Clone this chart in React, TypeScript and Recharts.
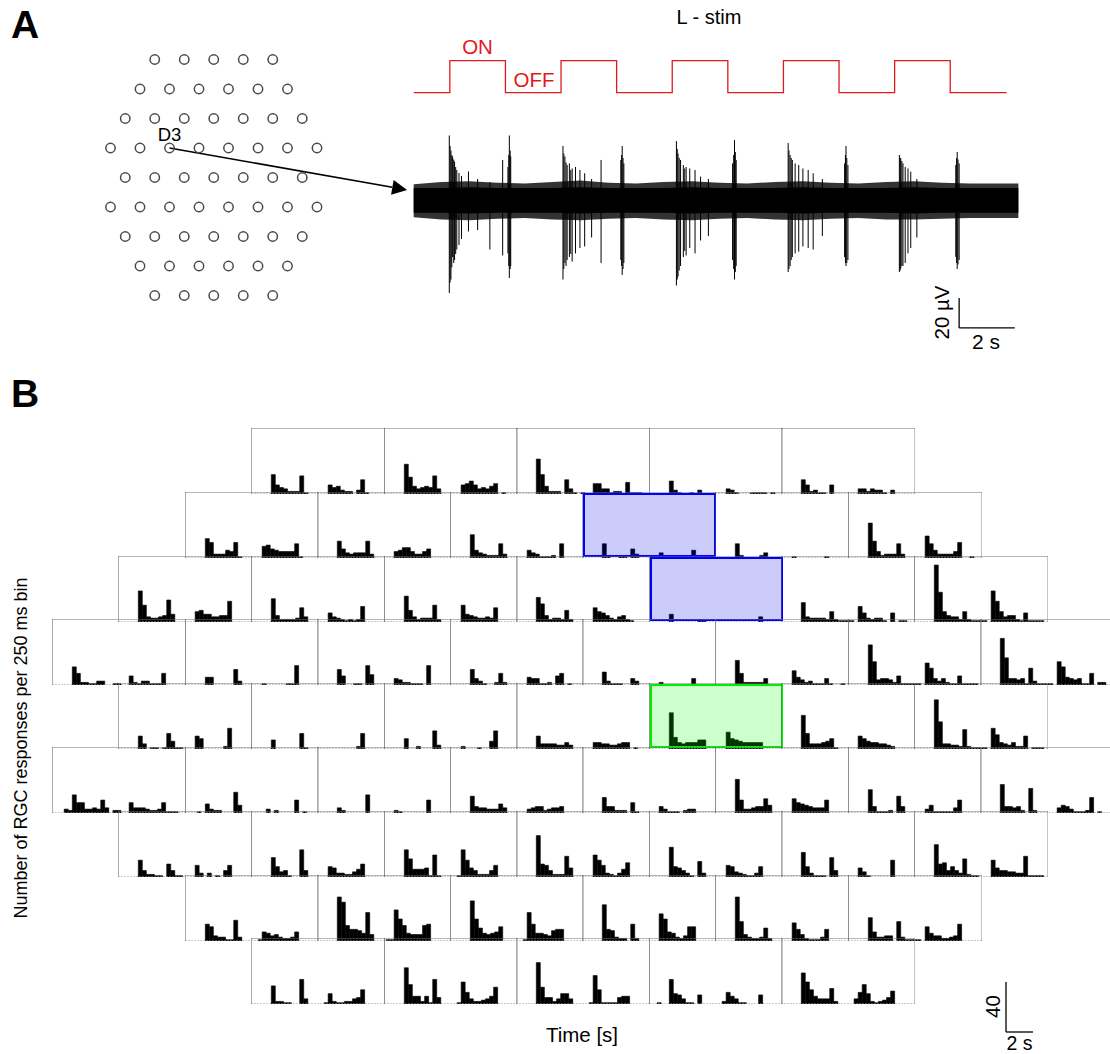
import React from "react";
import {
  Bar,
  BarChart,
  ComposedChart,
  Area,
  Line,
  ReferenceDot,
  ReferenceLine,
  Scatter,
  ScatterChart,
  XAxis,
  YAxis,
} from "recharts";

const FONT = '"Liberation Sans", Arial, sans-serif';

// electrode layout (hexagonal MEA), number of electrodes per row and half-pitch offset
const electrodeRows = [5, 6, 7, 8, 7, 8, 7, 6, 5];
const rowOffsets = [3, 2, 1, 0, 1, 0, 1, 2, 3];

// L - stim: step times (s) and levels
const stimT = [0, 1.3, 3.3, 5.3, 7.3, 9.3, 11.3, 13.3, 15.3, 17.3, 19.3, 21.33];
const stimLevel = [0, 1, 0, 1, 0, 1, 0, 1, 0, 1, 0, 0];

// noise band of the D3 recording (µV)
const bandT = [0, 1, 2, 3, 4, 5, 6, 7, 8, 9, 10, 11, 12, 13, 14, 15, 16, 17, 18, 19, 20, 21, 21.75];
const coreHi = [8, 8, 8.5, 8, 8, 8, 8.5, 8, 8, 8, 8.5, 8, 8, 8, 8.5, 8, 8, 8, 8.5, 8, 8, 8, 8];
const coreLo = [-8.5, -8.5, -9, -8.5, -8.5, -8.5, -9, -8.5, -8.5, -8.5, -9, -8.5, -8.5, -8.5, -9, -8.5, -8.5, -8.5, -9, -8.5, -8.5, -8.5, -8.5];
const fringeHi = [10.5, 12, 12.5, 11.5, 11, 12, 13, 11.5, 11, 12, 12.5, 11.5, 11, 12, 12.5, 11.5, 11, 12, 12.5, 11.5, 11, 11, 11];
const fringeLo = [-11.5, -13, -13.5, -12.5, -12, -13, -13.5, -12.5, -12, -13, -13.5, -12.5, -12, -13, -13.5, -12.5, -12, -13, -13, -12.5, -12, -12, -12];

// spikes: time (s), positive peak, negative peak (µV)
const spikeT = [
  1.28, 1.31, 1.34, 1.37, 1.4, 1.44, 1.47, 1.51, 1.55, 1.63, 1.72, 1.97, 2.3, 2.74, 3.2, 3.39, 3.42, 3.44, 3.47, 3.49,
  5.37, 5.4, 5.44, 5.48, 5.52, 5.6, 5.65, 5.7, 5.82, 5.98, 6.15, 6.4, 6.74, 7.45, 7.48, 7.5, 7.53, 7.56,
  9.45, 9.48, 9.51, 9.55, 9.6, 9.7, 9.75, 9.8, 9.93, 10.12, 10.32, 10.6, 11.47, 11.51, 11.54, 11.57, 11.6,
  13.47, 13.5, 13.54, 13.58, 13.62, 13.72, 13.85, 14.0, 14.19, 14.37, 14.7, 15.5, 15.53, 15.55, 15.58, 15.62,
  17.47, 17.5, 17.52, 17.56, 17.6, 17.68, 17.78, 17.88, 18.1, 19.5, 19.53, 19.55, 19.58, 19.62,
];
const spikeHi = [
  43, 36, 33, 30, 29, 27, 25.6, 22, 20, 18, 16, 19, 14, 12, 26.7, 22, 30, 43, 33, 29,
  36, 31, 29, 25, 23.3, 24.4, 20, 21, 22, 20, 17.8, 14, 26.7, 26.7, 30, 36, 28, 24.4,
  39.3, 34, 31, 28, 26.7, 23.3, 21, 22, 21, 20, 15.6, 14, 24.4, 30, 40, 32, 26.7,
  38, 33, 30, 28, 26.7, 24.4, 23.3, 21, 20, 17.8, 14, 24.4, 30, 36, 28, 23.3,
  30, 28, 27.8, 26, 24.4, 22, 21, 18.9, 14, 23.3, 28, 32, 27, 24.4,
];
const spikeLo = [
  -62, -55, -53, -45, -38, -42, -40, -36, -33, -30, -26, -21, -20, -33, -37, -35.6, -44, -52, -46, -44,
  -53, -46, -42, -44, -40, -38, -36, -41, -35.6, -32, -31, -25, -42, -40, -44, -50, -46, -42,
  -57, -53, -51, -47, -44, -38, -34, -37, -32, -35.6, -27, -24, -40, -46, -53, -48, -44,
  -48, -46, -44, -40, -38, -35.6, -34.4, -31, -32, -33, -24, -38, -42, -44, -42, -40,
  -48, -47, -45.6, -44, -44, -42, -35.6, -32, -25, -38, -42, -46, -43, -40,
];

// RGC responses per 250 ms bin (33 bins per electrode), rows top to bottom
const row1 = [
  [0,0,0,0,0, 15,7,5,4,2,2,2,14,1, 0,0,0,0,0, 7,5,6,3,2,2,0,3,11,1, 0,0,0,0],
  [0,0,0,0,0, 23,13,6,4,5,6,5,14,4, 0,0,0,0,0, 7,8,10,7,4,5,4,6,8,0, 1,0,0,0],
  [0,0,0,0,0, 27,15,6,2,2,2,0,11,4, 1,0,1,0,0, 8,8,4,4,1,2,2,0,9,1, 1,1,0,0],
  [0,0,0,0,0, 10,3,1,0,0,1,0,3,0, 0,0,0,0,0, 4,3,1,0,0,0,1,1,1,1, 0,1,0,0],
  [0,0,0,0,0, 11,7,2,3,1,1,0,7,0, 0,0,0,0,0, 4,4,2,4,3,3,1,0,3,0, 0,0,0,0],
];
const row2 = [
  [0,0,0,0,0, 15,12,3,3,3,6,5,12,1, 0,0,0,0,0, 9,10,7,6,5,5,5,5,11,1, 0,0,0,0],
  [0,0,0,0,0, 13,7,4,3,4,4,4,13,3, 0,0,0,0,0, 5,6,8,8,5,3,3,5,7,0, 0,0,0,0],
  [0,0,0,0,0, 18,6,4,3,2,2,2,11,3, 0,0,0,0,0, 6,4,3,1,1,1,2,0,11,0, 0,0,0,0],
  [0,0,0,0,0, 11,1,0,0,1,1,0,7,3, 0,0,0,0,0, 4,1,1,1,1,0,0,0,6,0, 0,0,0,0],
  [0,0,0,0,0, 11,2,0,0,0,0,2,4,0, 0,0,0,0,0, 1,0,0,0,0,0,0,0,1,0, 0,0,0,0],
  [0,0,0,0,0, 27,13,5,2,3,3,3,11,3, 0,0,0,0,0, 17,11,6,3,3,3,3,5,12,0, 0,1,0,0],
];
const row3 = [
  [0,0,0,0,0, 24,13,4,3,3,4,5,17,6, 0,0,0,0,0, 8,9,6,6,4,4,5,5,16,0, 0,0,0,0],
  [0,0,0,0,0, 18,5,2,2,2,2,3,11,4, 0,0,0,0,0, 7,4,3,2,1,2,1,2,12,0, 0,0,0,0],
  [0,0,0,0,0, 20,9,4,2,3,3,3,13,2, 0,0,0,0,0, 13,6,5,4,3,3,4,3,11,0, 0,0,0,0],
  [0,0,0,0,0, 19,14,5,2,3,3,2,9,2, 0,0,0,0,0, 11,8,7,5,3,2,4,5,2,1, 0,0,0,0],
  [0,0,0,0,0, 6,0,0,0,0,0,0,1,1, 0,0,0,0,0, 0,0,0,0,0,0,0,0,4,0, 0,0,0,0],
  [0,0,0,0,0, 15,4,3,3,3,3,2,8,2, 1,1,1,1,0, 12,7,3,2,3,3,1,0,7,0, 1,1,0,0],
  [0,0,0,0,0, 44,23,8,5,4,4,2,8,2, 1,1,1,1,0, 24,16,8,4,5,5,2,1,7,1, 1,1,1,0],
];
const row4 = [
  [0,0,0,0,0, 14,9,2,2,1,1,3,3,0, 0,1,1,0,0, 7,2,1,3,3,1,1,1,9,0, 0,0,0,0],
  [0,0,0,0,0, 6,6,0,0,0,0,0,12,3, 0,0,0,0,0, 1,0,0,0,0,0,1,1,15,0, 0,0,0,0],
  [0,0,0,0,0, 12,7,0,0,1,1,0,15,8, 0,0,0,0,0, 5,4,2,2,1,1,1,0,15,0, 0,0,0,0],
  [0,0,0,0,0, 12,5,3,1,0,0,2,9,2, 0,0,0,0,0, 6,5,5,1,1,2,0,7,9,0, 1,0,0,0],
  [0,0,0,0,0, 10,3,1,1,1,0,0,5,3, 0,0,0,0,0, 2,0,0,0,0,0,0,0,5,0, 0,0,0,0],
  [0,0,0,0,0, 19,9,2,2,2,2,2,5,0, 0,0,0,0,0, 11,6,4,2,3,1,1,1,5,1, 0,0,1,0],
  [0,0,0,0,0, 31,18,4,5,5,4,2,7,1, 1,1,1,1,0, 17,13,5,3,5,2,1,1,7,1, 1,1,1,0],
  [0,0,0,0,0, 36,21,5,5,4,5,1,13,3, 1,1,1,1,0, 18,14,6,5,4,5,1,1,9,0, 2,2,0,0],
];
const row5 = [
  [0,0,0,0,0, 10,4,0,1,1,0,1,12,6, 1,1,0,0,0, 10,8,0,0,0,0,0,2,16,0, 0,0,0,0],
  [0,0,0,0,0, 7,0,0,0,0,0,0,12,1, 0,0,0,0,0, 0,0,0,0,0,0,0,2,12,0, 0,0,0,0],
  [0,0,0,0,0, 8,0,0,2,0,0,0,14,3, 0,0,0,0,0, 2,0,0,0,1,0,0,6,14,0, 0,0,0,0],
  [0,0,0,0,0, 10,4,4,4,4,3,3,5,3, 0,0,0,0,0, 5,5,4,4,3,3,4,5,5,0, 1,0,0,0],
  [0,0,0,0,0, 28,9,5,4,5,5,5,7,7, 0,0,0,0,0, 13,8,7,6,5,5,5,5,5,0, 0,0,0,0],
  [0,0,0,0,0, 26,12,4,4,4,5,6,8,1, 0,0,0,0,0, 10,8,6,5,5,4,4,3,2,0, 0,0,0,0],
  [0,0,0,0,0, 38,21,4,4,3,3,2,15,2, 1,1,1,1,0, 16,11,5,4,3,5,2,2,10,0, 1,1,1,0],
];
const row6 = [
  [0,0,0,3,2, 14,8,8,3,3,4,3,10,4, 0,2,2,0,0, 8,4,4,4,3,2,2,3,8,1, 1,1,0,0],
  [0,0,0,1,0, 7,3,2,2,0,0,0,16,6, 0,0,0,0,0, 0,3,0,2,0,0,0,0,10,0, 1,0,0,0],
  [0,0,0,0,0, 4,2,0,0,0,0,0,14,0, 0,0,0,0,0, 2,1,0,0,0,0,0,0,10,0, 0,0,0,0],
  [0,0,0,0,0, 13,5,4,4,3,3,3,7,4, 0,0,0,0,0, 3,4,5,5,2,3,4,4,5,0, 0,0,0,0],
  [0,0,0,0,0, 12,5,5,2,2,2,0,8,1, 0,0,0,0,0, 5,3,1,1,1,0,2,3,3,0, 0,0,0,0],
  [0,0,0,0,0, 26,10,3,3,4,5,5,11,6, 0,0,0,0,0, 11,8,7,6,5,4,4,4,10,0, 0,0,0,0],
  [0,0,0,0,0, 18,5,1,1,1,2,0,13,5, 0,0,0,0,0, 3,6,1,1,1,1,1,4,10,0, 0,0,0,0],
  [0,0,0,0,0, 22,5,5,4,5,2,0,19,2, 0,0,0,0,0, 4,6,5,3,1,1,1,2,12,0, 1,0,0,0],
];
const row7 = [
  [0,0,0,0,0, 13,5,2,2,1,1,0,10,5, 1,1,0,0,0, 9,3,0,3,0,1,0,5,9,0, 0,0,0,0],
  [0,0,0,0,0, 15,8,4,5,1,0,0,21,5, 0,0,0,0,0, 8,7,3,3,2,2,4,6,10,0, 0,0,0,0],
  [0,0,0,0,0, 21,14,6,6,6,7,1,17,1, 0,0,0,0,1, 21,13,7,5,2,2,2,5,9,0, 0,0,0,0],
  [0,0,0,0,0, 32,10,9,5,2,2,2,16,7, 0,0,0,0,0, 17,13,9,3,2,1,3,6,11,0, 0,0,0,0],
  [0,0,0,0,0, 23,8,7,5,3,1,0,12,3, 0,0,0,0,0, 9,8,4,3,2,1,1,3,8,0, 0,0,0,0],
  [0,0,0,0,0, 19,8,3,1,1,1,0,15,5, 0,0,0,0,0, 7,4,1,0,0,0,0,0,13,0, 0,0,0,0],
  [0,0,0,0,0, 25,10,11,5,8,5,3,14,2, 1,1,0,0,0, 13,7,5,5,4,4,3,3,16,1, 1,1,1,0],
];
const row8 = [
  [0,0,0,0,0, 13,11,4,3,3,1,1,16,3, 0,0,0,0,1, 7,6,4,5,3,2,2,3,7,0, 0,0,0,0],
  [0,0,0,0,0, 34,30,12,9,9,8,6,22,5, 0,0,0,1,1, 24,17,12,6,5,5,5,12,13,0, 0,0,0,0],
  [0,0,0,0,0, 31,17,10,6,5,6,7,11,0, 0,0,0,0,1, 22,13,6,6,5,4,8,9,9,0, 0,0,0,0],
  [0,0,0,0,0, 28,9,8,3,2,2,0,13,2, 0,0,0,0,0, 21,17,7,6,3,2,4,11,11,0, 0,0,0,0],
  [0,0,0,0,0, 34,15,5,3,2,2,3,10,2, 0,0,0,0,0, 14,9,5,2,1,1,1,3,9,0, 0,0,0,0],
  [0,0,0,0,0, 18,7,3,3,4,4,0,15,3, 1,1,1,1,0, 11,6,4,4,2,2,3,4,13,0, 0,0,0,0],
];
const row9 = [
  [0,0,0,0,0, 14,2,2,1,1,0,0,19,4, 0,0,0,0,1, 8,2,1,1,2,2,4,5,11,0, 0,0,0,0],
  [0,0,0,0,0, 28,15,6,6,2,6,1,19,5, 0,0,0,0,1, 17,9,4,2,2,3,4,6,13,0, 0,0,0,0],
  [0,0,0,0,0, 32,13,5,5,2,4,8,8,4, 0,0,0,0,1, 22,11,1,1,1,1,5,6,6,0, 0,0,0,0],
  [0,0,1,0,0, 19,8,7,4,1,1,0,7,0, 0,0,0,0,2, 9,6,4,1,1,0,0,0,7,0, 0,0,0,0],
  [0,0,0,0,0, 24,17,11,6,4,4,4,12,2, 0,0,0,0,4, 9,15,8,2,1,2,3,5,10,0, 0,0,0,0],
];
const histogramRows = [row1, row2, row3, row4, row5, row6, row7, row8, row9];

// highlighted electrodes: "row-index"
const highlight: Record<string, string> = { "1-3": "blue", "2-4": "blue", "4-4": "green" };

const electrodes = electrodeRows.flatMap((n, r) =>
  Array.from({ length: n }, (_, i) => ({ col: rowOffsets[r] + 2 * i, row: r }))
);
const stimData = stimT.map((t, i) => ({ t, level: stimLevel[i] }));
const bandData = bandT.map((t, i) => ({
  t,
  core: [coreLo[i], coreHi[i]],
  fringe: [fringeLo[i], fringeHi[i]],
}));
const spikes = spikeT.map((t, i) => ({ t, hi: spikeHi[i], lo: spikeLo[i] }));

function ArrowShape(props: any) {
  const { x1, y1, x2, y2 } = props;
  const dx = x2 - x1;
  const dy = y2 - y1;
  const len = Math.hypot(dx, dy) || 1;
  const ux = dx / len;
  const uy = dy / len;
  const hl = 15;
  const hw = 7.5;
  const bx = x2 - ux * hl;
  const by = y2 - uy * hl;
  return (
    <g>
      <line x1={x1} y1={y1} x2={bx} y2={by} stroke="#000" strokeWidth={1.6} />
      <polygon
        points={`${x2},${y2} ${bx - uy * hw},${by + ux * hw} ${bx + uy * hw},${by - ux * hw}`}
        fill="#000"
      />
    </g>
  );
}

function Histogram({ counts }: { counts: number[] }) {
  const data = counts.map((c, i) => ({ bin: i, count: c }));
  return (
    <BarChart
      width={134}
      height={66}
      data={data}
      margin={{ top: 0, right: 0, bottom: 0, left: 0 }}
      barCategoryGap={0}
      barGap={0}
    >
      <XAxis
        dataKey="bin"
        height={1}
        ticks={[10, 28]}
        interval={0}
        tick={false}
        tickSize={3}
        mirror
        axisLine={{ stroke: "#999", strokeDasharray: "2 1" }}
        tickLine={{ stroke: "#888" }}
      />
      <XAxis
        xAxisId="top"
        dataKey="bin"
        orientation="top"
        height={1}
        ticks={[10, 28]}
        interval={0}
        tick={false}
        tickSize={3}
        mirror
        axisLine={{ stroke: "#6e6e6e" }}
        tickLine={{ stroke: "#888" }}
      />
      <YAxis
        domain={[0, 51]}
        width={1}
        ticks={[43]}
        tick={false}
        tickSize={3}
        mirror
        allowDataOverflow
        axisLine={{ stroke: "#5a5a5a" }}
        tickLine={{ stroke: "#888" }}
      />
      <YAxis
        yAxisId="right"
        orientation="right"
        domain={[0, 51]}
        width={1}
        ticks={[43]}
        tick={false}
        tickSize={3}
        mirror
        allowDataOverflow
        axisLine={{ stroke: "#8a8a8a" }}
        tickLine={{ stroke: "#aaa" }}
      />
      <Bar dataKey="count" fill="#000" stroke="#000" strokeWidth={0.6} isAnimationActive={false} />
    </BarChart>
  );
}

export default function App() {
  const panels = histogramRows.flatMap((row, r) =>
    row.map((counts, i) => {
      const col = rowOffsets[r] + 2 * i;
      return {
        key: `${r}-${i}`,
        counts,
        left: Math.round(53 + 66.3 * col),
        top: Math.round(429 + 63.8 * r),
        hl: highlight[`${r}-${i}`],
      };
    })
  );

  return (
    <div
      style={{
        position: "absolute",
        left: 0,
        top: 0,
        width: 1110,
        height: 1054,
        background: "#fff",
        fontFamily: FONT,
        overflow: "hidden",
      }}
    >
      {/* text annotations */}
      <svg width={1110} height={1054} style={{ position: "absolute", left: 0, top: 0 }}>
        <text x={11} y={38} fontFamily={FONT} fontWeight="bold" fontSize={39}>
          A
        </text>
        <text x={11} y={407} fontFamily={FONT} fontWeight="bold" fontSize={39}>
          B
        </text>
        <text x={709} y={24} textAnchor="middle" fontFamily={FONT} fontSize={20}>
          L - stim
        </text>
        <text x={477.5} y={54} textAnchor="middle" fontFamily={FONT} fontSize={20.5} fill="#e31a1c">
          ON
        </text>
        <text x={534} y={87} textAnchor="middle" fontFamily={FONT} fontSize={20.5} fill="#e31a1c">
          OFF
        </text>
        <text x={949} y={312.5} textAnchor="middle" fontFamily={FONT} fontSize={20.5} transform="rotate(-90 949 312.5)">
          20 µV
        </text>
        <text x={986} y={349} textAnchor="middle" fontFamily={FONT} fontSize={21}>
          2 s
        </text>
        <text x={27} y={748} textAnchor="middle" fontFamily={FONT} fontSize={18} transform="rotate(-90 27 748)">
          Number of RGC responses per 250 ms bin
        </text>
        <text x={582} y={1042} textAnchor="middle" fontFamily={FONT} fontSize={20.5}>
          Time [s]
        </text>
        <text x={1000} y={1006.5} textAnchor="middle" fontFamily={FONT} fontSize={20.5} transform="rotate(-90 1000 1006.5)">
          40
        </text>
        <text x={1019.5} y={1050} textAnchor="middle" fontFamily={FONT} fontSize={19.5}>
          2 s
        </text>
      </svg>

      {/* A: electrode layout */}
      <div style={{ position: "absolute", left: 80.5, top: 29.5 }}>
        <ScatterChart width={339.25} height={295} margin={{ top: 0, right: 0, bottom: 0, left: 0 }}>
          <XAxis type="number" dataKey="col" domain={[-2, 21]} hide allowDataOverflow />
          <YAxis type="number" dataKey="row" domain={[-1, 9]} reversed hide allowDataOverflow />
          <Scatter
            data={electrodes}
            isAnimationActive={false}
            shape={(p: any) => (
              <circle cx={p.cx} cy={p.cy} r={4.7} fill="none" stroke="#4a4a4a" strokeWidth={1.5} />
            )}
          />
          <ReferenceLine
            segment={[
              { x: 4, y: 3 },
              { x: 20.11, y: 4.42 },
            ]}
            shape={ArrowShape}
          />
          <ReferenceDot
            x={4}
            y={3}
            r={0}
            fill="none"
            stroke="none"
            label={{ value: "D3", position: "top", offset: 7, fill: "#000", fontSize: 18.5, fontFamily: FONT }}
          />
        </ScatterChart>
      </div>

      {/* A: stimulus and recording */}
      <div style={{ position: "absolute", left: 400, top: 0 }}>
        <ComposedChart width={640} height={360} margin={{ top: 0, right: 0, bottom: 0, left: 0 }}>
          <XAxis type="number" dataKey="t" domain={[-0.4928, 22.529]} hide allowDataOverflow />
          <YAxis yAxisId="uv" type="number" domain={[-106.67, 133.33]} hide allowDataOverflow />
          <YAxis yAxisId="stim" type="number" domain={[-8.353, 2.897]} hide allowDataOverflow />
          <Area
            yAxisId="uv"
            data={bandData}
            dataKey="fringe"
            type="linear"
            stroke="none"
            fill="#000"
            fillOpacity={0.8}
            isAnimationActive={false}
          />
          <Area
            yAxisId="uv"
            data={bandData}
            dataKey="core"
            type="linear"
            stroke="none"
            fill="#000"
            fillOpacity={1}
            isAnimationActive={false}
          />
          {spikes.map((s, i) => (
            <ReferenceLine
              key={i}
              yAxisId="uv"
              segment={[
                { x: s.t, y: s.lo },
                { x: s.t, y: s.hi },
              ]}
              stroke="#000"
              strokeWidth={1}
            />
          ))}
          <Line
            yAxisId="stim"
            data={stimData}
            dataKey="level"
            type="stepAfter"
            stroke="#e31a1c"
            strokeWidth={1.3}
            dot={false}
            isAnimationActive={false}
          />
          <ReferenceLine
            yAxisId="uv"
            segment={[
              { x: 19.62, y: -65.3 },
              { x: 19.62, y: -85.3 },
            ]}
            stroke="#000"
            strokeWidth={1.3}
          />
          <ReferenceLine
            yAxisId="uv"
            segment={[
              { x: 19.62, y: -85.3 },
              { x: 21.62, y: -85.3 },
            ]}
            stroke="#000"
            strokeWidth={1.3}
          />
        </ComposedChart>
      </div>

      {/* B: per-electrode histograms */}
      {panels.map((p) => (
        <div key={p.key} style={{ position: "absolute", left: p.left - 1, top: p.top - 1 }}>
          <Histogram counts={p.counts} />
          {p.hl && (
            <div
              style={{
                position: "absolute",
                left: 1,
                top: 1,
                width: 133,
                height: 64,
                boxSizing: "border-box",
                border: `2px solid ${p.hl === "blue" ? "#0000ff" : "#00ee00"}`,
                background: p.hl === "blue" ? "rgba(0,0,230,0.2)" : "rgba(0,255,0,0.2)",
              }}
            />
          )}
        </div>
      ))}

      {/* B: scale bar */}
      <div style={{ position: "absolute", left: 950, top: 960 }}>
        <ComposedChart width={100} height={94} margin={{ top: 0, right: 0, bottom: 0, left: 0 }}>
          <XAxis type="number" dataKey="x" domain={[-4.148, 3.259]} hide allowDataOverflow />
          <YAxis type="number" domain={[-17.6, 57.6]} hide allowDataOverflow />
          <ReferenceLine segment={[{ x: 0, y: 0 }, { x: 0, y: 40 }]} stroke="#000" strokeWidth={1.3} />
          <ReferenceLine segment={[{ x: 0, y: 0 }, { x: 2, y: 0 }]} stroke="#000" strokeWidth={1.3} />
        </ComposedChart>
      </div>
    </div>
  );
}
